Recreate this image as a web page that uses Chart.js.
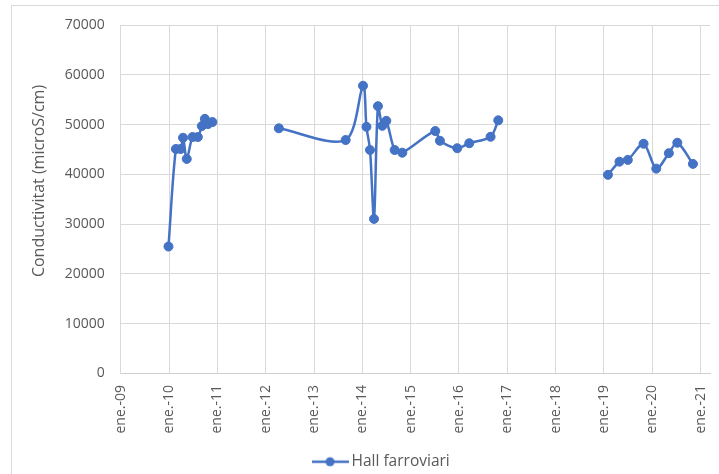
<!DOCTYPE html>
<html>
<head>
<meta charset="utf-8">
<script src="https://cdn.jsdelivr.net/npm/chart.js@4.4.1/dist/chart.umd.min.js"></script>
<style>
  body { margin: 0; background: #fff; }
  canvas { display: block; }
</style>
</head>
<body>
<canvas id="condChart" width="719" height="474"></canvas>
<script>
// sample dates (null value = break in the line)
const sampleDates = [
  '2009-12-28', '2010-02-22', '2010-03-30', '2010-04-17', '2010-05-15', '2010-06-28',
  '2010-08-07', '2010-09-06', '2010-09-29', '2010-10-23', '2010-11-25', '2011-06-01',
  '2012-04-10', '2013-08-28', '2014-01-06', '2014-02-01', '2014-02-28', '2014-03-30',
  '2014-04-29', '2014-06-01', '2014-07-01', '2014-09-02', '2014-10-30', '2015-07-06',
  '2015-08-10', '2015-12-19', '2016-03-19', '2016-08-27', '2016-10-24', '2017-12-01',
  '2019-01-31', '2019-04-28', '2019-06-30', '2019-10-27', '2020-01-31', '2020-05-05',
  '2020-07-08', '2020-11-03'
];
const conductivity = [
  25500, 45100, 45100, 47350, 43100, 47500,
  47500, 49700, 51150, 50100, 50500, null,
  49250, 46900, 57800, 49550, 44900, 31050,
  53700, 49750, 50750, 44900, 44350, 48700,
  46750, 45250, 46250, 47550, 50850, null,
  39900, 42550, 42900, 46150, 41150, 44250,
  46350, 42100
];
const tickYears = [2009, 2010, 2011, 2012, 2013, 2014, 2015, 2016, 2017, 2018, 2019, 2020, 2021];
const tickLabels = ['ene.-09', 'ene.-10', 'ene.-11', 'ene.-12', 'ene.-13', 'ene.-14', 'ene.-15',
  'ene.-16', 'ene.-17', 'ene.-18', 'ene.-19', 'ene.-20', 'ene.-21'];
const seriesName = 'Hall farroviari';
const yTitle = 'Conductivitat (microS/cm)';

const blue = '#4472C4';
const textGray = '#595959';
const gridGray = '#d9d9d9';

const points = sampleDates.map((d, i) => ({ x: Date.parse(d), y: conductivity[i] }));

// legend icon: short line with a marker in the middle
const legendIcon = document.createElement('canvas');
legendIcon.width = 37;
legendIcon.height = 12;
(() => {
  const c = legendIcon.getContext('2d');
  c.strokeStyle = blue;
  c.lineWidth = 2.5;
  c.beginPath();
  c.moveTo(0, 6);
  c.lineTo(37, 6);
  c.stroke();
  c.fillStyle = blue;
  c.beginPath();
  c.arc(18.5, 6, 4.5, 0, Math.PI * 2);
  c.fill();
})();

const chartFrame = {
  id: 'chartFrame',
  beforeDraw(chart) {
    const ctx = chart.ctx;
    ctx.save();
    ctx.fillStyle = '#fff';
    ctx.fillRect(0, 0, chart.width, chart.height);
    ctx.strokeStyle = gridGray;
    ctx.lineWidth = 1;
    ctx.strokeRect(11.5, 5.5, 800, 800);
    ctx.restore();
  },
  afterLayout(chart) {
    chart.legend.left += 18;
    chart.legend.right += 18;
  },
  afterDraw(chart) {
    const ctx = chart.ctx;
    ctx.save();
    ctx.translate(39, 181);
    ctx.rotate(-Math.PI / 2);
    ctx.font = '16px "Open Sans"';
    ctx.fillStyle = textGray;
    ctx.textAlign = 'center';
    ctx.textBaseline = 'middle';
    ctx.fillText(yTitle, 0, 0);
    ctx.restore();
  }
};

new Chart(document.getElementById('condChart').getContext('2d'), {
  type: 'scatter',
  data: {
    datasets: [{
      label: seriesName,
      data: points,
      showLine: true,
      spanGaps: false,
      borderColor: blue,
      backgroundColor: blue,
      borderWidth: 2.5,
      tension: 0.3,
      pointRadius: 4.5,
      pointBackgroundColor: blue,
      pointBorderColor: blue,
      pointBorderWidth: 1
    }]
  },
  options: {
    responsive: false,
    animation: false,
    layout: { padding: { left: 11, right: 0, top: 25, bottom: -5.5 } },
    plugins: {
      tooltip: { enabled: false },
      legend: {
        position: 'bottom',
        labels: {
          color: textGray,
          font: { family: 'Open Sans', size: 15.5 },
          padding: 6,
          usePointStyle: true,
          pointStyleWidth: 27.5,
          generateLabels(chart) {
            return [{
              text: seriesName,
              fontColor: textGray,
              pointStyle: legendIcon,
              lineWidth: 0,
              datasetIndex: 0
            }];
          }
        }
      }
    },
    scales: {
      x: {
        type: 'linear',
        min: Date.UTC(2009, 0, 1),
        max: Date.UTC(2021, 2, 12),
        afterBuildTicks(scale) {
          scale.ticks = tickYears.map(y => ({ value: Date.UTC(y, 0, 1) }));
        },
        afterFit(scale) {
          scale.height = 74.5;
          scale.paddingLeft = 0;
          scale.paddingRight = 9;
        },
        grid: { color: gridGray, lineWidth: 1, drawTicks: false },
        border: { color: '#cfcfcf', width: 1 },
        ticks: {
          autoSkip: false,
          minRotation: 90,
          maxRotation: 90,
          padding: 11.5,
          color: textGray,
          font: { family: 'Open Sans', size: 14 },
          callback: (value, index) => tickLabels[index]
        }
      },
      y: {
        min: 0,
        max: 70000,
        afterFit(scale) {
          scale.width = 109.7;
        },
        grid: { color: gridGray, lineWidth: 1, drawTicks: false },
        border: { color: gridGray, width: 1 },
        ticks: {
          stepSize: 10000,
          padding: 16,
          color: textGray,
          font: { family: 'Open Sans', size: 14 },
          callback: v => String(v)
        }
      }
    }
  },
  plugins: [chartFrame]
});
</script>
</body>
</html>
